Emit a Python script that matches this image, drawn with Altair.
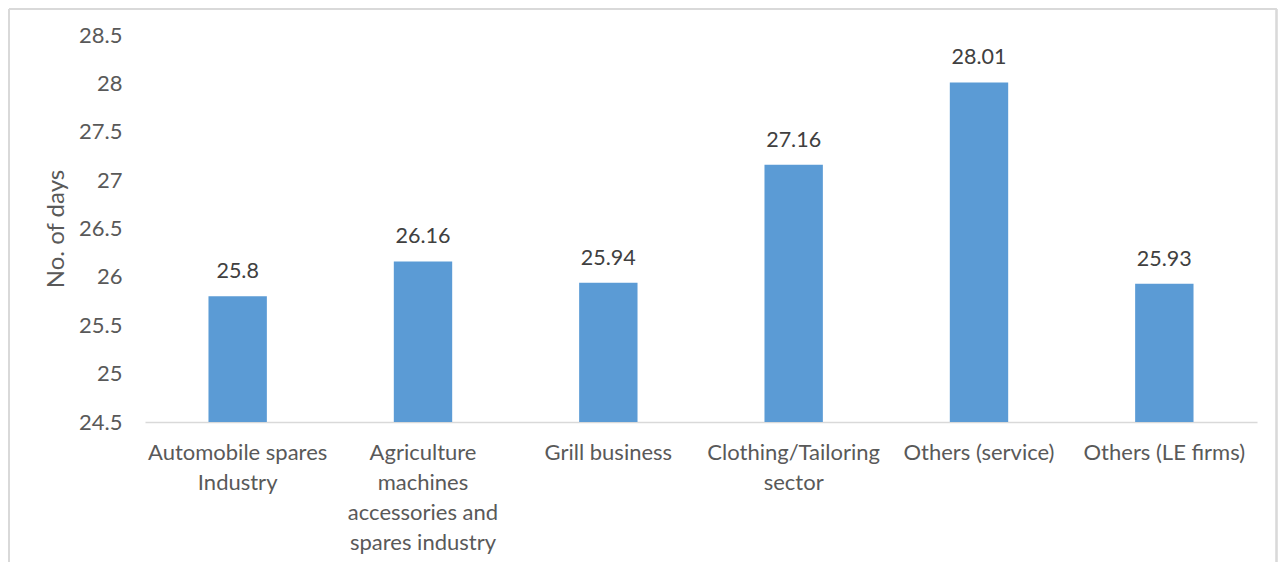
import altair as alt
import pandas as pd

categories = [
    "Automobile spares|Industry",
    "Agriculture|machines|accessories and|spares industry",
    "Grill business",
    "Clothing/Tailoring|sector",
    "Others (service)",
    "Others (LE firms)",
]
values = [25.8, 26.16, 25.94, 27.16, 28.01, 25.93]
y_ticks = [24.5, 25, 25.5, 26, 26.5, 27, 27.5, 28, 28.5]
y_min, y_max = 24.5, 28.5
y_title = "No. of days"

df = pd.DataFrame({"category": categories, "value": values})

FONT = "Lato"
W, H = 1112, 387

x_enc = alt.X(
    "category:N",
    sort=categories,
    title=None,
    scale=alt.Scale(paddingInner=0.685, paddingOuter=0.3425),
    axis=alt.Axis(
        labelAngle=0,
        labelExpr="split(datum.label, '|')",
        labelFont=FONT,
        labelFontSize=22,
        labelColor="#595959",
        labelLineHeight=30,
        labelPadding=20,
        labelBaseline="top",
        ticks=False,
        domainColor="#d9d9d9",
        domainWidth=1.5,
        grid=False,
        labelLimit=300,
    ),
)

y_enc = alt.Y(
    "value:Q",
    scale=alt.Scale(domain=[y_min, y_max], nice=False, zero=False),
    axis=alt.Axis(
        values=y_ticks,
        format="~g",
        title=y_title,
        titleFont=FONT,
        titleFontSize=24,
        titleFontWeight="normal",
        titleColor="#595959",
        titlePadding=10,
        labelFont=FONT,
        labelFontSize=22,
        labelColor="#595959",
        labelPadding=23,
        ticks=False,
        domain=False,
        grid=False,
    ),
)

base = alt.Chart(df)

bars = base.mark_bar(color="#5B9BD5").encode(
    x=x_enc,
    y=y_enc,
    y2=alt.datum(y_min),
)

labels = base.mark_text(
    font=FONT, fontSize=21.5, color="#404040", baseline="alphabetic", dy=-18
).encode(
    x=alt.X("category:N", sort=categories),
    y=alt.Y("value:Q"),
    text=alt.Text("value:Q", format="~g"),
)

frame_style = dict(color="#d9d9d9", strokeWidth=1.5)
frame_left = base.mark_rule(**frame_style).encode(
    x=alt.value(-136), y=alt.value(-26), y2=alt.value(620)
)
frame_right = base.mark_rule(**frame_style).encode(
    x=alt.value(1131.5), y=alt.value(-26), y2=alt.value(620)
)
frame_top = base.mark_rule(**frame_style).encode(
    x=alt.value(-136), x2=alt.value(1131.5), y=alt.value(-26)
)

chart = (
    alt.layer(frame_left, frame_right, frame_top, bars, labels)
    .properties(
        width=W,
        height=H,
        background="white",
        autosize=alt.AutoSizeParams(type="none"),
        padding={"left": 137, "top": 27, "right": 21, "bottom": 140},
    )
    .configure_view(strokeWidth=0, stroke="transparent")
)

chart.save("out.html", embed_options={"renderer": "svg", "actions": False})
